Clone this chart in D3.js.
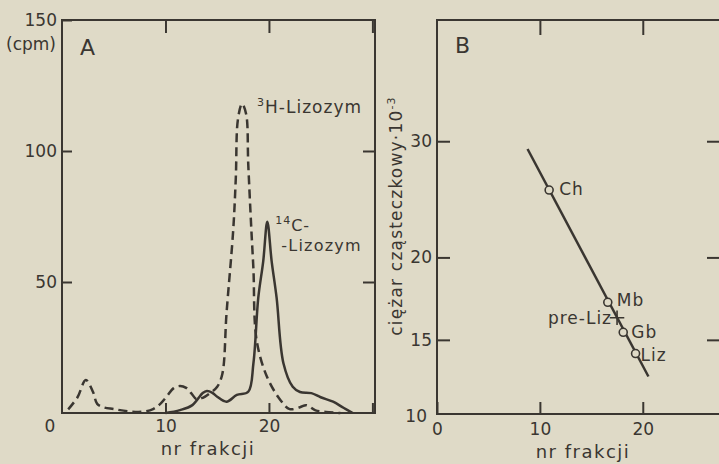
<!DOCTYPE html>
<html>
<head>
<meta charset="utf-8">
<script src="https://cdn.jsdelivr.net/npm/d3@7"></script>
<style>
  html, body { margin: 0; padding: 0; background: #dfdac7; }
  svg { display: block; }
  text { font-family: "DejaVu Sans", sans-serif; fill: #3a3631; }
</style>
</head>
<body>
<div id="chart-container"></div>
<script>
// panel A: elution profile (fraction no. vs cpm)
const fracH = [0.6, 1.5, 2.3, 3.0, 3.4, 4.0, 5.0, 6.5, 7.8, 8.8, 9.5, 10.1, 10.8, 11.4, 12.0, 12.5, 13.0, 13.6, 14.3, 15.0, 15.5, 15.9, 16.55, 16.8, 17.0, 17.4, 17.8, 18.0, 18.3, 18.5, 18.8, 19.8, 21.1, 22.0, 23.0, 23.6, 24.5, 25.5, 26.9];
const cpmH  = [1.4, 6, 12.6, 8, 3.5, 2.2, 1.5, 0.6, 0.5, 1.5, 3.5, 6.2, 9.5, 10.3, 9.6, 7.5, 5.3, 5.8, 7.6, 10, 15, 38, 70, 90, 112, 118, 114, 95, 70, 55, 28, 13.9, 5, 1.5, 2.2, 3, 1, 0.4, 0];
const fracC = [10.0, 11.4, 12.6, 13.6, 14.0, 14.5, 15.0, 15.9, 16.9, 18.0, 18.5, 18.97, 19.45, 19.84, 20.26, 20.74, 21.4, 22.3, 23.0, 24.1, 25.0, 26.2, 27.2, 28.1];
const cpmC  = [0, 1.1, 3, 7.6, 8.4, 7.8, 6.2, 4.3, 6.9, 8.1, 19, 44, 58, 73, 58, 44, 19, 10, 8, 7.6, 6, 4.3, 2, 0];
const tickCpm = [50, 100, 150];
const tickFracA = [10, 20, 30];

// panel B: calibration (fraction no. vs molecular mass / 1000)
const proteins = ["Ch", "Mb", "Gb", "Liz"];
const protFrac = [10.9, 16.6, 18.1, 19.3];
const protMass = [25.3, 17.1, 15.4, 14.3];
const preLizFrac = 17.5;
const preLizMass = 16.2;
const fitFrac = [8.8, 20.55];
const fitMass = [29.2, 13.2];
const tickMass = [15, 20, 30];
const tickFracB = [0, 10, 20];

const ink = "#3a3631";
const paper = "#dfdac7";

const svg = d3
  .select("#chart-container")
  .append("svg")
  .attr("width", 719)
  .attr("height", 464);

const xA = d3.scaleLinear().domain([0, 30.25]).range([62, 375]);
const yA = d3.scaleLinear().domain([0, 150]).range([413, 20]);
const xB = d3.scaleLinear().domain([0, 27.7]).range([437, 722]);
const yB = d3.scaleLog().domain([11.58, 45.8]).range([414, 20]);

function styleAxis(g) {
  g.attr("font-family", null).attr("font-size", null);
  g.select(".domain").remove();
  g.selectAll("line").attr("stroke", ink).attr("stroke-width", 2);
  g.selectAll("text").style("font-size", "17px").attr("fill", ink);
}

// ---------- panel A ----------
svg.append("rect")
  .attr("x", xA.range()[0]).attr("y", yA.range()[1])
  .attr("width", xA.range()[1] - xA.range()[0])
  .attr("height", yA.range()[0] - yA.range()[1])
  .attr("fill", "none").attr("stroke", ink).attr("stroke-width", 2);

svg.append("g").attr("transform", `translate(${xA.range()[0]},0)`)
  .call(d3.axisLeft(yA).tickValues(tickCpm).tickSize(-10).tickPadding(5))
  .call(styleAxis);
svg.append("g").attr("transform", `translate(${xA.range()[1]},0)`)
  .call(d3.axisRight(yA).tickValues(tickCpm.slice(0, 2)).tickSize(-12).tickFormat(""))
  .call(styleAxis);
svg.append("g").attr("transform", `translate(0,${yA.range()[1]})`)
  .call(d3.axisTop(xA).tickValues(tickFracA).tickSize(-13).tickFormat(""))
  .call(styleAxis);
svg.append("g").attr("transform", `translate(0,${yA.range()[0]})`)
  .call(d3.axisBottom(xA).tickValues(tickFracA).tickSize(-10).tickPadding(7)
    .tickFormat((d) => (d === 30 ? "" : d)))
  .call(styleAxis);

svg.append("text").attr("x", 50).attr("y", 432)
  .attr("text-anchor", "middle").style("font-size", "17px").text("0");
svg.append("text").attr("x", 56).attr("y", 50)
  .attr("text-anchor", "end").style("font-size", "17px").text("(cpm)");
svg.append("text").attr("x", xA.range()[0] + 18).attr("y", 55)
  .style("font-size", "22px").text("A");
svg.append("text").attr("x", 208).attr("y", 455)
  .attr("text-anchor", "middle").style("font-size", "18px")
  .style("letter-spacing", "1.5px").text("nr frakcji");

const lineA = d3.line()
  .x((d) => xA(d[0]))
  .y((d) => yA(d[1]))
  .curve(d3.curveCatmullRom.alpha(0.5));

svg.append("path")
  .datum(d3.zip(fracH, cpmH))
  .attr("d", lineA)
  .attr("fill", "none").attr("stroke", ink).attr("stroke-width", 2.5)
  .attr("stroke-dasharray", "9,5");

svg.append("path")
  .datum(d3.zip(fracC, cpmC))
  .attr("d", lineA)
  .attr("fill", "none").attr("stroke", ink).attr("stroke-width", 2.5);

// peak labels
const tH = svg.append("text").attr("x", xA(18.85)).attr("y", yA(114.5))
  .style("font-size", "17px").style("letter-spacing", "1px");
tH.append("tspan").style("font-size", "11px").attr("dy", -7).text("3");
tH.append("tspan").attr("dy", 7).text("H-Lizozym");

const tC = svg.append("text").attr("x", xA(20.6)).attr("y", yA(69.5))
  .style("font-size", "16px").style("letter-spacing", "1px");
tC.append("tspan").style("font-size", "11px").attr("dy", -7).text("14");
tC.append("tspan").attr("dy", 7).text("C-");
svg.append("text").attr("x", xA(21.2)).attr("y", yA(61.8))
  .style("font-size", "16px").style("letter-spacing", "1.2px").text("-Lizozym");

// ---------- panel B ----------
svg.append("rect")
  .attr("x", xB.range()[0]).attr("y", yB.range()[1])
  .attr("width", xB.range()[1] - xB.range()[0])
  .attr("height", yB.range()[0] - yB.range()[1])
  .attr("fill", "none").attr("stroke", ink).attr("stroke-width", 2);

svg.append("g").attr("transform", `translate(${xB.range()[0]},0)`)
  .call(d3.axisLeft(yB).tickValues(tickMass).tickSize(-13).tickPadding(5)
    .tickFormat(d3.format("d")))
  .call(styleAxis);
svg.append("g").attr("transform", `translate(${xB.range()[1]},0)`)
  .call(d3.axisRight(yB).tickValues(tickMass).tickSize(-15).tickFormat(""))
  .call(styleAxis);
svg.append("g").attr("transform", `translate(0,${yB.range()[1]})`)
  .call(d3.axisTop(xB).tickValues(tickFracB.slice(1)).tickSize(-15).tickFormat(""))
  .call(styleAxis);
svg.append("g").attr("transform", `translate(0,${yB.range()[0]})`)
  .call(d3.axisBottom(xB).tickValues(tickFracB).tickSize(-12).tickPadding(9))
  .call(styleAxis);

svg.append("text").attr("x", 427).attr("y", 422)
  .attr("text-anchor", "end").style("font-size", "17px").text("10");
svg.append("text").attr("x", xB.range()[0] + 18).attr("y", 53)
  .style("font-size", "22px").text("B");
svg.append("text").attr("x", 583).attr("y", 458)
  .attr("text-anchor", "middle").style("font-size", "18px")
  .style("letter-spacing", "1.5px").text("nr frakcji");

const yLab = svg.append("text")
  .attr("transform", "translate(402,216) rotate(-90)")
  .attr("text-anchor", "middle")
  .style("font-size", "17px").style("letter-spacing", "1.2px");
yLab.append("tspan").text("ciężar cząsteczkowy·10");
yLab.append("tspan").style("font-size", "11px").attr("dy", -7).text("-3");

const lineB = d3.line().x((d) => xB(d[0])).y((d) => yB(d[1]));
svg.append("path")
  .datum(d3.zip(fitFrac, fitMass))
  .attr("d", lineB)
  .attr("fill", "none").attr("stroke", ink).attr("stroke-width", 2.5);

const pts = d3.zip(proteins, protFrac, protMass);
const labelOffset = { Ch: [10, 5], Mb: [9, 4], Gb: [8, 6], Liz: [5, 7] };

svg.append("g").selectAll("circle")
  .data(pts).enter().append("circle")
  .attr("cx", (d) => xB(d[1]))
  .attr("cy", (d) => yB(d[2]))
  .attr("r", 4)
  .attr("fill", paper).attr("stroke", ink).attr("stroke-width", 1.6);

svg.append("g").selectAll("text")
  .data(pts).enter().append("text")
  .attr("x", (d) => xB(d[1]) + labelOffset[d[0]][0])
  .attr("y", (d) => yB(d[2]) + labelOffset[d[0]][1])
  .style("font-size", "17px").style("letter-spacing", "1px")
  .text((d) => d[0]);

svg.append("path")
  .attr("d", d3.symbol().type(d3.symbolPlus).size(70))
  .attr("transform", `translate(${xB(preLizFrac)},${yB(preLizMass)})`)
  .attr("fill", "none").attr("stroke", ink).attr("stroke-width", 1.6);
svg.append("text")
  .attr("x", xB(preLizFrac) - 5).attr("y", yB(preLizMass) + 6)
  .attr("text-anchor", "end")
  .style("font-size", "17px").style("letter-spacing", "1px")
  .text("pre-Liz");
</script>
</body>
</html>
